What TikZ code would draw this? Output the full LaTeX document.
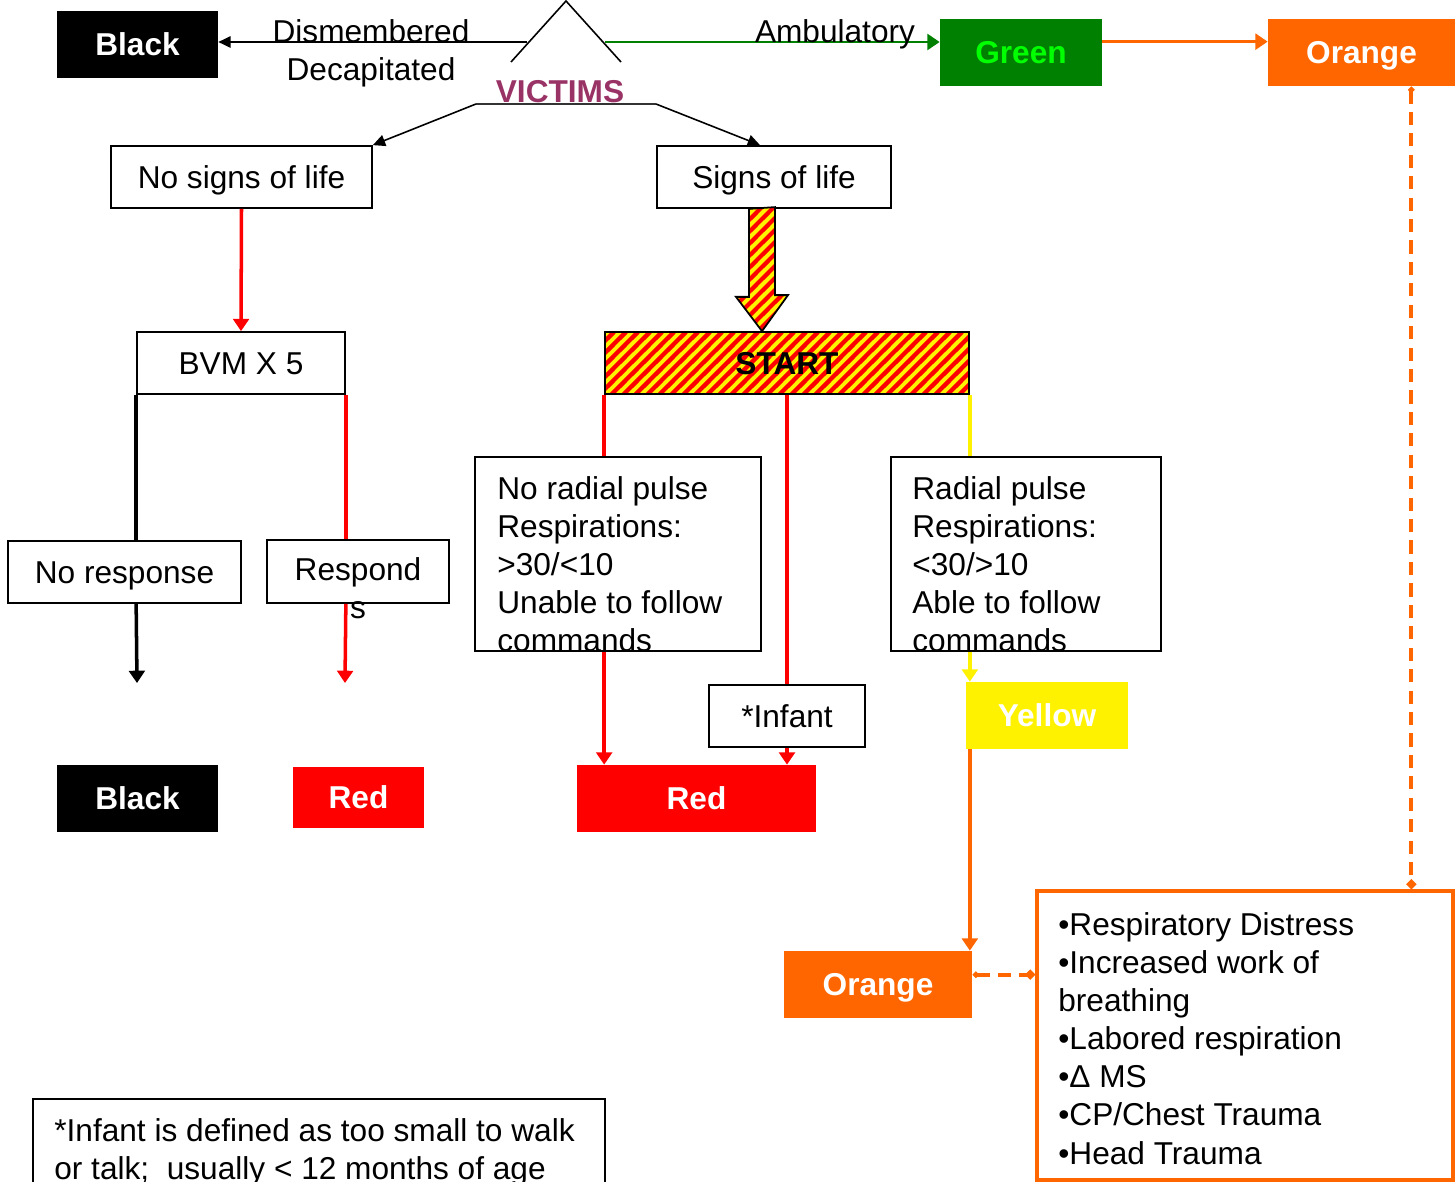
\documentclass[tikz,border=0pt]{standalone}
\usepackage{fontspec}
\setmainfont{Liberation Sans}
\usetikzlibrary{arrows.meta,patterns,calc}

\definecolor{triageOrange}{HTML}{FF6600}
\definecolor{triageGreen}{HTML}{008000}
\definecolor{lightGreen}{HTML}{00FF00}
\definecolor{victimPurple}{HTML}{993366}

\newcommand{\boxfont}{\fontsize{18}{21.7}\selectfont}
\newcommand{\tagfont}{\fontsize{18}{21.7}\selectfont\bfseries}

% red/yellow warning stripes
\pgfdeclarepatternformonly{hazard}{\pgfpointorigin}{\pgfqpoint{6.8pt}{6.8pt}}{\pgfqpoint{6.8pt}{6.8pt}}{%
  \pgfpathmoveto{\pgfpointorigin}
  \pgfpathlineto{\pgfqpoint{3.4pt}{0pt}}
  \pgfpathlineto{\pgfqpoint{6.8pt}{3.4pt}}
  \pgfpathlineto{\pgfqpoint{6.8pt}{6.8pt}}
  \pgfpathclose
  \pgfpathmoveto{\pgfqpoint{0pt}{3.4pt}}
  \pgfpathlineto{\pgfqpoint{0pt}{6.8pt}}
  \pgfpathlineto{\pgfqpoint{3.4pt}{6.8pt}}
  \pgfpathclose
  \pgfusepath{fill}}

\tikzstyle{block} = [rectangle, draw, line width=1pt, fill=white, inner sep=0pt, font=\boxfont,
    text height=12.9pt, text depth=0pt]
\tikzstyle{tag} = [rectangle, inner sep=0pt, font=\tagfont, text=white, minimum height=1.34cm,
    text height=12.9pt, text depth=0pt]
\tikzstyle{hazardfill} = [draw, line width=1pt, preaction={fill=yellow}, pattern=hazard, pattern color=red]
\tikzstyle{boxtext} = [inner sep=0pt, font=\boxfont, align=left, anchor=north west]
\tikzstyle{arrow} = [draw, -{Triangle[length=7pt,width=9pt]}, line width=2pt]
\tikzstyle{line} = [draw, line width=2pt]
\tikzstyle{thinarrow} = [draw, -{Triangle[length=7pt,width=6.5pt]}, line width=0.9pt]
\tikzstyle{dashlink} = [draw, triageOrange, line width=2.2pt, dash pattern=on 7.5pt off 4.7pt,
    {Diamond[length=4pt,width=4pt]}-{Diamond[length=6pt,width=6pt]}]

\begin{document}
\begin{tikzpicture}[x=0.02cm, y=-0.02cm]
    \useasboundingbox (0,0) rectangle (1456,1182);
    % roof over VICTIMS
    \draw[line width=0.9pt] (511,62) -- (566,1) -- (621,62);
    \coordinate (vicL) at (476,104);
    \coordinate (vicR) at (656,104);
    \draw[line width=0.6pt, black!80] (vicL) -- (vicR);
    % Place nodes
    \node [tag, fill=black, minimum width=3.22cm] (blackTop) at (137.5,44.5) {Black};
    \node [tag, fill=triageGreen, text=lightGreen, minimum width=3.24cm] (green) at (1021,52.5) {Green};
    \node [tag, fill=triageOrange, minimum width=3.74cm] (orangeTop) at (1361.5,52.5) {Orange};
%
    \node [block, minimum width=5.22cm, minimum height=1.24cm] (noSigns) at (241.5,177) {No signs of life};
    \node [block, minimum width=4.68cm, minimum height=1.24cm] (signs) at (774,177) {Signs of life};
    \node [block, minimum width=4.16cm, minimum height=1.24cm] (bvm) at (241,363) {BVM X 5};
    \node [hazardfill, minimum width=7.28cm, minimum height=1.24cm, inner sep=0pt, font=\tagfont,
        text height=12.9pt, text depth=0pt] (start) at (787,363) {START};
%
    \node [block, minimum width=4.66cm, minimum height=1.24cm] (noResp) at (124.5,572) {No response};
    \node [block, minimum width=3.64cm, minimum height=1.26cm] (respond) at (358,571.5) {};
    \node [block, minimum width=5.72cm, minimum height=3.88cm] (noRadial) at (618,554) {};
    \node [block, minimum width=5.4cm, minimum height=3.88cm] (radial) at (1026,554) {};
    \node [block, minimum width=3.12cm, minimum height=1.24cm] (infant) at (787,716) {*Infant};
    \node [tag, fill=yellow, minimum width=3.24cm] (yellow) at (1047,715.5) {Yellow};
%
    \node [tag, fill=black, minimum width=3.22cm] (blackBot) at (137.5,798.5) {Black};
    \node [tag, fill=red, minimum width=2.62cm, minimum height=1.22cm] (redSmall) at (358.5,797.5) {Red};
    \node [tag, fill=red, minimum width=4.78cm] (redBig) at (696.5,798.5) {Red};
    \node [tag, fill=triageOrange, minimum width=3.76cm] (orangeBot) at (878,984.5) {Orange};
    \node [block, draw=triageOrange, line width=1.8pt, minimum width=8.32cm, minimum height=5.78cm] (signsList) at (1245,1035.5) {};
    \node [block, minimum width=11.44cm, minimum height=2.22cm] (note) at (319,1154.5) {};

    % striped arrow down to START
    \coordinate (hazTip) at ($(start.north)+(-25,0)$);
    \coordinate (hazTail) at (hazTip |- signs.south);
    \path [hazardfill] ($(hazTail)+(-13,0)$) -- ++(0,88) -- ++(-13,0) -- (hazTip)
        -- ++(26,-36) -- ++(-13,0) -- ++(0,-88) -- cycle;

    % top row
    \coordinate (dismStart) at (527,42);
    \coordinate (ambStart) at (605,42);
    \path [thinarrow] (dismStart) -- (dismStart -| blackTop.east);
    \path [arrow, triageGreen, line width=1.6pt] (ambStart) -- (ambStart -| green.west);
    \path [arrow, triageOrange, line width=1.8pt] ($(green.north east)+(0,23)$) -- ($(orangeTop.north west)+(0,23)$);
    \path [thinarrow] (vicL) -- (noSigns.north east);
    \path [thinarrow] (vicR) -- ($(signs.north)+(-14,0)$);

    % no signs of life
    \path [arrow, red] (noSigns.south) -- (bvm.north);
    \coordinate (blackEnd) at (137,683);
    \coordinate (redEnd) at (345,683);
    \path [line] (bvm.south west) -- (bvm.south west |- noResp.north);
    \path [arrow] (noResp.south -| bvm.south west) -- (blackEnd);
    \path [line, red] (bvm.south east) -- (bvm.south east |- respond.north);
    \path [arrow, red] (respond.south -| bvm.south east) -- (redEnd);

    % START branches
    \path [line, red] (start.south west) -- (start.south west |- noRadial.north);
    \path [arrow, red] (noRadial.south -| start.south west) -- (redBig.north -| start.south west);
    \path [line, red] (start.south) -- (infant.north);
    \path [arrow, red] (infant.south) -- (redBig.north -| infant.south);
    \path [line, yellow] (start.south east) -- (start.south east |- radial.north);
    \path [arrow, yellow] (radial.south -| start.south east) -- (yellow.north -| start.south east);
    \path [arrow, triageOrange] (yellow.south -| start.south east) -- (orangeBot.north -| start.south east);

    % dashed links to the signs box
    \coordinate (dashL) at ($(orangeBot.north east)+(0,24)$);
    \coordinate (dashT) at ($(orangeTop.south east)+(-44,0)$);
    \path [dashlink] (dashL) -- (dashL -| signsList.west);
    \path [dashlink] (dashT) -- (dashT |- signsList.north);

    % texts
    \node [font=\boxfont, align=center, anchor=north, inner sep=0pt] (dismText) at (371,19) {Dismembered\\Decapitated};
    \node [font=\boxfont, anchor=north, inner sep=0pt] (ambText) at (835,19) {Ambulatory};
    \node [font=\tagfont, text=victimPurple, anchor=base, inner sep=0pt] (victims) at (560,103) {VICTIMS};
    \node [font=\boxfont, align=center, anchor=north, inner sep=0pt] (respondText) at (358,557) {Respond\\s};
    \node [boxtext] (noRadialText) at (497,476) {No radial pulse\\Respirations:\\>30/<10\\Unable to follow\\commands};
    \node [boxtext] (radialText) at (912,476) {Radial pulse\\Respirations:\\<30/>10\\Able to follow\\commands};
    \node [boxtext] (signsText) at (1058,912) {•Respiratory Distress\\•Increased work of\\breathing\\•Labored respiration\\•Δ MS\\•CP/Chest Trauma\\•Head Trauma};
    \node [boxtext] (noteText) at (54,1118) {*Infant is defined as too small to walk\\or talk;\ \ usually < 12 months of age};
\end{tikzpicture}
\end{document}
